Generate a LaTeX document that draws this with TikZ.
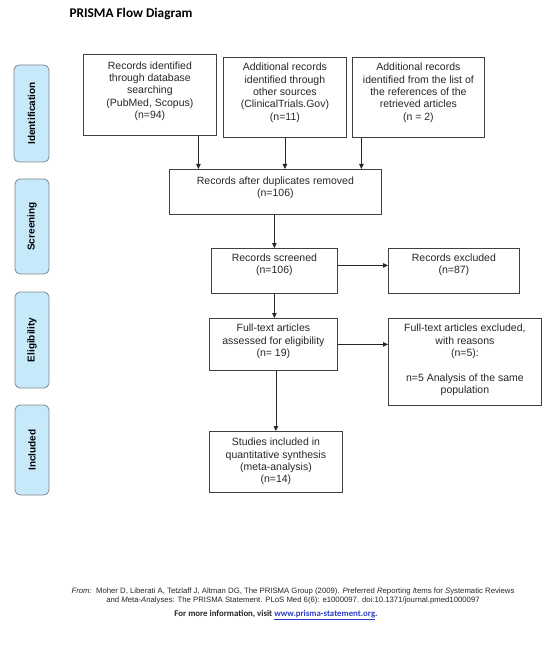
\documentclass[tikz,border=0pt]{standalone}
\usepackage{fontspec}
\setmainfont{Liberation Sans}
\newfontfamily\calibri{Carlito}
\usetikzlibrary{arrows.meta,calc}
\definecolor{sidefill}{RGB}{199,234,251}
\definecolor{sideline}{RGB}{128,134,140}
\definecolor{boxline}{RGB}{64,64,64}
\definecolor{txt}{RGB}{38,38,38}
\definecolor{linkblue}{RGB}{40,60,200}
\newcommand{\bt}[4]{\parbox[c][#2pt][t]{#1pt}{\centering\rule{0pt}{#3pt}#4\par}}
\begin{document}
\begin{tikzpicture}[x=1pt,y=-1pt,
  flowbox/.style={draw=boxline,line width=0.8pt,inner sep=0pt,anchor=north west,
    text=txt,font=\fontsize{10.5}{12.3}\selectfont},
  sidebox/.style={draw=sideline,fill=sidefill,line width=0.8pt,rounded corners=5pt,
    rotate=90,inner sep=0pt,font=\bfseries\fontsize{10}{12}\selectfont,text=black},
  arr/.style={draw=black!85,line width=0.8pt,-{Triangle[length=5pt,width=4.5pt]}}]
\useasboundingbox (0,0) rectangle (550,652);

\node[anchor=west,font=\calibri\bfseries\fontsize{13.3}{15}\selectfont] (title) at (66,14) {PRISMA Flow Diagram};

% side labels
\node[sidebox,minimum width=97pt,minimum height=35pt] (sid) at (31.5,113.5) {Identification};
\node[sidebox,minimum width=95pt,minimum height=34pt] (ssc) at (32,226.5) {Screening};
\node[sidebox,minimum width=96pt,minimum height=34pt] (sel) at (32,340) {Eligibility};
\node[sidebox,minimum width=90pt,minimum height=34pt] (sin) at (32,450) {Included};

% boxes
\node[flowbox] (b1) at (83,54) {\bt{133}{81}{15}{Records identified\\through database\\searching\\(PubMed, Scopus)\\(n=94)}};
\node[flowbox] (b2) at (223,57) {\bt{123}{80}{13.5}{Additional records\\identified through\\other sources\\(ClinicalTrials.Gov)\\(n=11)}};
\node[flowbox] (b3) at (352,57) {\bt{132}{80}{13.5}{Additional records\\identified from the list of\\the references of the\\retrieved articles\\(n = 2)}};
\node[flowbox] (dup) at (169,169) {\bt{212}{45}{15}{Records after duplicates removed\\(n=106)}};
\node[flowbox] (scr) at (211,248) {\bt{126}{45}{13}{Records screened\\(n=106)}};
\node[flowbox] (exc) at (388,248) {\bt{131}{45}{13}{Records excluded\\(n=87)}};
\node[flowbox] (ft) at (209,318) {\bt{128}{52}{13.5}{Full-text articles\\assessed for eligibility\\(n= 19)}};
\node[flowbox] (fte) at (388,318) {\bt{153}{87}{13.5}{Full-text articles excluded,\\with reasons\\(n=5):\\[12.3pt]n=5 Analysis of the same\\population}};
\node[flowbox] (inc) at (209,431) {\bt{133}{61}{14.5}{Studies included in\\quantitative synthesis\\(meta-analysis)\\(n=14)}};

% connectors
\draw[arr] ([xshift=48.5pt]b1.south) -- ([xshift=48.5pt]b1.south |- dup.north);
\draw[arr] (b2.south) -- (b2.south |- dup.north);
\draw[arr] ([xshift=-57pt]b3.south) -- ([xshift=-57pt]b3.south |- dup.north);
\draw[arr] ([xshift=-1pt]dup.south) -- ([xshift=-1pt]dup.south |- scr.north);
\draw[arr] ([yshift=5.5pt]scr.east) -- ([yshift=5.5pt]scr.east -| exc.west);
\draw[arr] (scr.south) -- (scr.south |- ft.north);
\draw[arr] (ft.east) -- (ft.east -| fte.west);
\draw[arr] (inc.north |- ft.south) -- (inc.north);

% footer
\node[align=center,text=txt,font=\fontsize{7.75}{8.8}\selectfont] (src) at (293,596)
  {\textit{From:}\ \ Moher D, Liberati A, Tetzlaff J, Altman DG, The PRISMA Group (2009). \textit{P}referred \textit{R}eporting \textit{I}tems for \textit{S}ystematic Reviews\\
   and \textit{M}eta-\textit{A}nalyses: The PRISMA Statement. PLoS Med 6(6): e1000097. doi:10.1371/journal.pmed1000097};
\node[text=txt,font=\calibri\bfseries\fontsize{8.8}{10}\selectfont] (more) at (276,615)
  {For more information, visit \textcolor{linkblue}{\underline{www.prisma-statement.org}}.};
\end{tikzpicture}
\end{document}
